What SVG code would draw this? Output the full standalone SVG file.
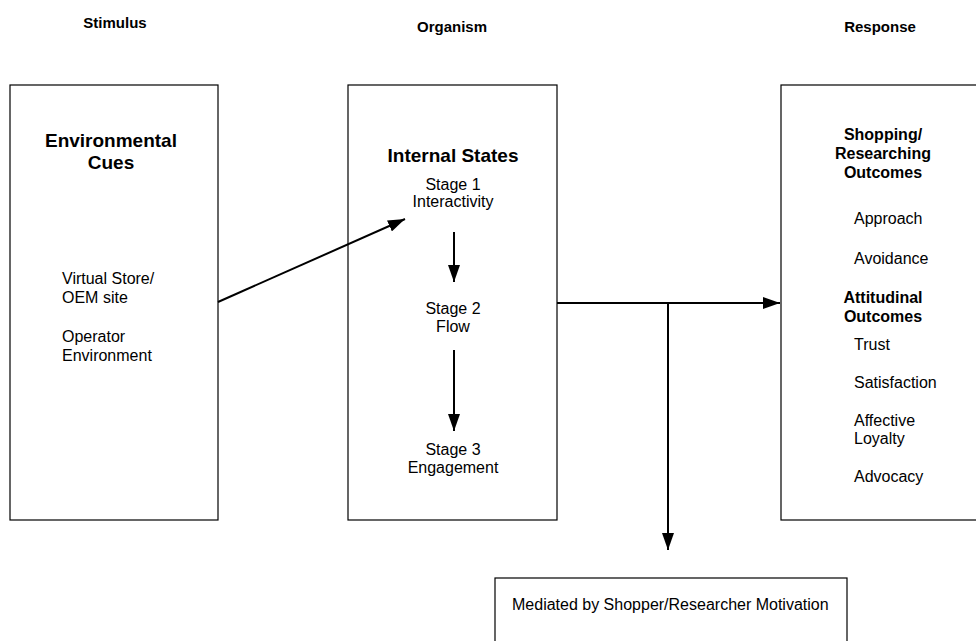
<svg xmlns="http://www.w3.org/2000/svg" width="976" height="641" viewBox="0 0 976 641">
<style>
text{font-family:"Liberation Sans",Arial,sans-serif;fill:#000}
.h{font-size:15px;font-weight:bold;text-anchor:middle}
.t{font-size:19px;font-weight:bold;text-anchor:middle}
.b{font-size:16px;font-weight:bold;text-anchor:middle}
.r{font-size:16px}
.c{text-anchor:middle}
.box{fill:#fff;stroke:#000;stroke-width:1.2}
.ln{fill:none;stroke:#000;stroke-width:2}
</style>
<defs>
<marker id="ah" markerUnits="userSpaceOnUse" markerWidth="18" markerHeight="12" refX="17" refY="6" orient="auto">
<path d="M0,0 L17,6 L0,12 Z" fill="#000"/>
</marker>
</defs>
<g id="headers">
<text class="h" x="115" y="28">Stimulus</text>
<text class="h" x="452" y="32">Organism</text>
<text class="h" x="880" y="32">Response</text>
</g>
<g id="stimulus">
<rect class="box" x="10" y="85" width="208" height="435"/>
<text class="t" x="111" y="147">Environmental</text>
<text class="t" x="111" y="169">Cues</text>
<text class="r" x="62" y="284">Virtual Store/</text>
<text class="r" x="62" y="303">OEM site</text>
<text class="r" x="62" y="342">Operator</text>
<text class="r" x="62" y="361">Environment</text>
</g>
<g id="organism">
<rect class="box" x="348" y="85" width="209" height="435"/>
<text class="t" x="453" y="162">Internal States</text>
<text class="r c" x="453" y="190">Stage 1</text>
<text class="r c" x="453" y="207">Interactivity</text>
<text class="r c" x="453" y="314">Stage 2</text>
<text class="r c" x="453" y="332">Flow</text>
<text class="r c" x="453" y="455">Stage 3</text>
<text class="r c" x="453" y="473">Engagement</text>
</g>
<g id="response">
<rect class="box" x="781" y="85" width="210" height="435"/>
<text class="b" x="883" y="140">Shopping/</text>
<text class="b" x="883" y="159">Researching</text>
<text class="b" x="883" y="178">Outcomes</text>
<text class="r" x="854" y="224">Approach</text>
<text class="r" x="854" y="264">Avoidance</text>
<text class="b" x="883" y="303">Attitudinal</text>
<text class="b" x="883" y="322">Outcomes</text>
<text class="r" x="854" y="350">Trust</text>
<text class="r" x="854" y="388">Satisfaction</text>
<text class="r" x="854" y="426">Affective</text>
<text class="r" x="854" y="444">Loyalty</text>
<text class="r" x="854" y="482">Advocacy</text>
</g>
<g id="mediator">
<rect class="box" x="495" y="578" width="352" height="80"/>
<text class="r" x="512" y="610">Mediated by Shopper/Researcher Motivation</text>
</g>
<g id="connectors">
<line class="ln" x1="218" y1="302" x2="405" y2="219" marker-end="url(#ah)"/>
<line class="ln" x1="454" y1="232" x2="454" y2="282" marker-end="url(#ah)"/>
<line class="ln" x1="454" y1="350" x2="454" y2="431" marker-end="url(#ah)"/>
<line class="ln" x1="557" y1="303" x2="780" y2="303" marker-end="url(#ah)"/>
<line class="ln" x1="668" y1="303" x2="668" y2="550" marker-end="url(#ah)"/>
</g>
</svg>
